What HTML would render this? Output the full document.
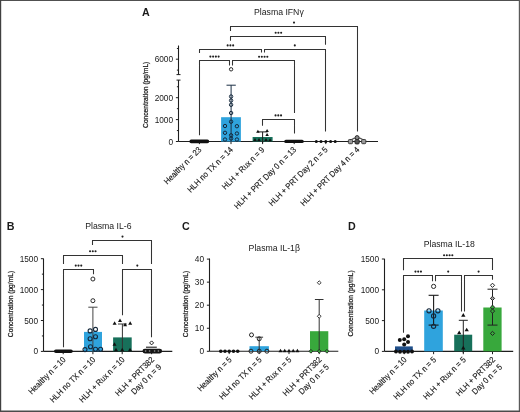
<!DOCTYPE html>
<html><head><meta charset="utf-8"><style>
html,body{margin:0;padding:0;background:#fff;}
svg{display:block;will-change:transform;}
text{font-family:"Liberation Sans", sans-serif;}
</style></head><body>
<svg width="520" height="412" viewBox="0 0 520 412">
<rect width="520" height="412" fill="#fff"/>
<text x="142" y="15.7" font-size="10.7" text-anchor="start" font-weight="bold" fill="#1a1a1a" >A</text>
<text x="254" y="15.1" font-size="8.7" text-anchor="start" font-weight="normal" fill="#1a1a1a" >Plasma IFN&#947;</text>
<line x1="178.5" y1="80.1" x2="178.5" y2="141.5" stroke="#1e1e1e" stroke-width="1.1"/>
<line x1="176.5" y1="80.1" x2="180.5" y2="80.1" stroke="#1e1e1e" stroke-width="1"/>
<line x1="178.5" y1="45.5" x2="178.5" y2="74.6" stroke="#1e1e1e" stroke-width="1.1"/>
<line x1="176.5" y1="74.6" x2="180.5" y2="74.6" stroke="#1e1e1e" stroke-width="1"/>
<line x1="175.9" y1="59.2" x2="178.5" y2="59.2" stroke="#1e1e1e" stroke-width="1"/>
<text x="173.1" y="62.2" font-size="8.3" text-anchor="end" font-weight="normal" fill="#1a1a1a" >6000</text>
<line x1="176.9" y1="48.5" x2="178.5" y2="48.5" stroke="#1e1e1e" stroke-width="1"/>
<line x1="176.9" y1="70.1" x2="178.5" y2="70.1" stroke="#1e1e1e" stroke-width="1"/>
<line x1="175.9" y1="141.5" x2="178.5" y2="141.5" stroke="#1e1e1e" stroke-width="1"/>
<text x="173.1" y="144.5" font-size="8.3" text-anchor="end" font-weight="normal" fill="#1a1a1a" >0</text>
<line x1="175.9" y1="119.6" x2="178.5" y2="119.6" stroke="#1e1e1e" stroke-width="1"/>
<text x="173.1" y="122.6" font-size="8.3" text-anchor="end" font-weight="normal" fill="#1a1a1a" >1000</text>
<line x1="175.9" y1="97.7" x2="178.5" y2="97.7" stroke="#1e1e1e" stroke-width="1"/>
<text x="173.1" y="100.7" font-size="8.3" text-anchor="end" font-weight="normal" fill="#1a1a1a" >2000</text>
<line x1="176.9" y1="130.55" x2="178.5" y2="130.55" stroke="#1e1e1e" stroke-width="1"/>
<line x1="176.9" y1="108.65" x2="178.5" y2="108.65" stroke="#1e1e1e" stroke-width="1"/>
<line x1="176.9" y1="86.75" x2="178.5" y2="86.75" stroke="#1e1e1e" stroke-width="1"/>
<text x="0" y="0" font-size="7.9" text-anchor="middle" fill="#1a1a1a" stroke="#1a1a1a" stroke-width="0.25" transform="translate(147.7 94.8) rotate(-90) scale(0.845 1)">Concentration (pg/mL)</text>
<line x1="178.5" y1="141.5" x2="378" y2="141.5" stroke="#1e1e1e" stroke-width="1.1"/>
<line x1="199.4" y1="141.5" x2="199.4" y2="144.1" stroke="#1e1e1e" stroke-width="1"/>
<line x1="231.0" y1="141.5" x2="231.0" y2="144.1" stroke="#1e1e1e" stroke-width="1"/>
<line x1="262.6" y1="141.5" x2="262.6" y2="144.1" stroke="#1e1e1e" stroke-width="1"/>
<line x1="294.2" y1="141.5" x2="294.2" y2="144.1" stroke="#1e1e1e" stroke-width="1"/>
<line x1="325.8" y1="141.5" x2="325.8" y2="144.1" stroke="#1e1e1e" stroke-width="1"/>
<line x1="357.4" y1="141.5" x2="357.4" y2="144.1" stroke="#1e1e1e" stroke-width="1"/>
<path d="M230.5 31V26.5H357.5V131.5" fill="none" stroke="#333333" stroke-width="1.05"/>
<circle cx="294.00" cy="22.6" r="1.05" fill="#202020"/>
<path d="M230.5 40.8V36.5H325.5V44.7" fill="none" stroke="#333333" stroke-width="1.05"/>
<circle cx="275.65" cy="32.8" r="1.05" fill="#202020"/>
<circle cx="278.40" cy="32.8" r="1.05" fill="#202020"/>
<circle cx="281.15" cy="32.8" r="1.05" fill="#202020"/>
<path d="M199.5 53.1V49.5H261.5V52.4" fill="none" stroke="#333333" stroke-width="1.05"/>
<circle cx="227.65" cy="45.4" r="1.05" fill="#202020"/>
<circle cx="230.40" cy="45.4" r="1.05" fill="#202020"/>
<circle cx="233.15" cy="45.4" r="1.05" fill="#202020"/>
<path d="M264.5 52.4V49.5H325.5V131.5" fill="none" stroke="#333333" stroke-width="1.05"/>
<circle cx="294.80" cy="45.4" r="1.05" fill="#202020"/>
<path d="M199.5 135.3V60.5H229.5V65.4" fill="none" stroke="#333333" stroke-width="1.05"/>
<circle cx="210.38" cy="56.6" r="1.05" fill="#202020"/>
<circle cx="213.12" cy="56.6" r="1.05" fill="#202020"/>
<circle cx="215.88" cy="56.6" r="1.05" fill="#202020"/>
<circle cx="218.62" cy="56.6" r="1.05" fill="#202020"/>
<path d="M232.5 65.4V60.5H294.5V113" fill="none" stroke="#333333" stroke-width="1.05"/>
<circle cx="259.07" cy="56.8" r="1.05" fill="#202020"/>
<circle cx="261.82" cy="56.8" r="1.05" fill="#202020"/>
<circle cx="264.57" cy="56.8" r="1.05" fill="#202020"/>
<circle cx="267.32" cy="56.8" r="1.05" fill="#202020"/>
<path d="M262.5 125.8V119.5H294.5V133.6" fill="none" stroke="#333333" stroke-width="1.05"/>
<circle cx="275.55" cy="115.4" r="1.05" fill="#202020"/>
<circle cx="278.30" cy="115.4" r="1.05" fill="#202020"/>
<circle cx="281.05" cy="115.4" r="1.05" fill="#202020"/>
<rect x="189.4" y="139.6" width="19.8" height="3.6" rx="1.8" fill="#111"/>
<rect x="221.1" y="117.2" width="19.8" height="24.3" fill="#2fa3dd"/>
<line x1="231.1" y1="85.2" x2="231.1" y2="141.5" stroke="#1b2f45" stroke-width="1"/>
<line x1="226.5" y1="85.2" x2="235.8" y2="85.2" stroke="#1b2f45" stroke-width="1"/>
<circle cx="231.1" cy="69.3" r="1.7" fill="none" stroke="#2a2a2a" stroke-width="1.0"/>
<circle cx="231.1" cy="96.5" r="1.7" fill="none" stroke="#14283c" stroke-width="1.0"/>
<circle cx="231.1" cy="100.5" r="1.7" fill="none" stroke="#14283c" stroke-width="1.0"/>
<circle cx="231.1" cy="104.8" r="1.7" fill="none" stroke="#14283c" stroke-width="1.0"/>
<circle cx="231.1" cy="113" r="1.7" fill="none" stroke="#14283c" stroke-width="1.0"/>
<circle cx="231.1" cy="121.7" r="1.7" fill="none" stroke="#14283c" stroke-width="1.0"/>
<circle cx="231.1" cy="135.3" r="1.7" fill="none" stroke="#14283c" stroke-width="1.0"/>
<circle cx="231.1" cy="138.5" r="1.7" fill="none" stroke="#14283c" stroke-width="1.0"/>
<circle cx="225" cy="126" r="1.7" fill="none" stroke="#14283c" stroke-width="1.0"/>
<circle cx="236.9" cy="126.2" r="1.7" fill="none" stroke="#14283c" stroke-width="1.0"/>
<circle cx="225" cy="132.8" r="1.7" fill="none" stroke="#14283c" stroke-width="1.0"/>
<circle cx="236.9" cy="133.5" r="1.7" fill="none" stroke="#14283c" stroke-width="1.0"/>
<circle cx="225" cy="139.5" r="1.7" fill="none" stroke="#14283c" stroke-width="1.0"/>
<circle cx="236.9" cy="139.5" r="1.7" fill="none" stroke="#14283c" stroke-width="1.0"/>
<rect x="252.6" y="137" width="20" height="4.5" fill="#17705a"/>
<line x1="262.6" y1="131.9" x2="262.6" y2="143" stroke="#1e1e1e" stroke-width="1"/>
<line x1="257.70000000000005" y1="131.9" x2="267.5" y2="131.9" stroke="#1e1e1e" stroke-width="1"/>
<path d="M256.15 132.82L257.90 129.78L259.65 132.82Z" fill="#111"/>
<path d="M265.35 132.12L267.10 129.08L268.85 132.12Z" fill="#111"/>
<path d="M265.35 136.12L267.10 133.08L268.85 136.12Z" fill="#111"/>
<path d="M253.25 141.12L255.00 138.08L256.75 141.12Z" fill="#111"/>
<path d="M257.25 141.12L259.00 138.08L260.75 141.12Z" fill="#111"/>
<path d="M264.25 141.12L266.00 138.08L267.75 141.12Z" fill="#111"/>
<path d="M268.25 141.32L270.00 138.28L271.75 141.32Z" fill="#111"/>
<rect x="284.2" y="139.7" width="19.6" height="3.4" rx="1.7" fill="#111"/>
<circle cx="316.3" cy="141.5" r="1.5" fill="#111"/>
<circle cx="321" cy="141.5" r="1.5" fill="#111"/>
<circle cx="325.8" cy="141.5" r="1.5" fill="#111"/>
<circle cx="330.6" cy="141.5" r="1.5" fill="#111"/>
<circle cx="335.2" cy="141.5" r="1.5" fill="#111"/>
<path d="M350.5 140.2Q357.2 135.6 363.9 140.2" fill="none" stroke="#555" stroke-width="1.1"/>
<rect x="348.4" y="139.5" width="4.2" height="4.2" rx="1" fill="#9a9a9a" stroke="#3a3a3a" stroke-width="1"/>
<rect x="361.59999999999997" y="139.5" width="4.2" height="4.2" rx="1" fill="#9a9a9a" stroke="#3a3a3a" stroke-width="1"/>
<rect x="355" y="139.5" width="4.2" height="4.4" rx="1" fill="#555" stroke="#2a2a2a" stroke-width="1"/>
<circle cx="357.1" cy="137.6" r="2.0" fill="#888" stroke="#2a2a2a" stroke-width="1"/>
<text x="0" y="0" font-size="8.4" text-anchor="end" fill="#1a1a1a" stroke="#1a1a1a" stroke-width="0.15" transform="translate(201.90 150.20) rotate(-45) scale(0.9 1)">Healthy n = 23</text>
<text x="0" y="0" font-size="8.4" text-anchor="end" fill="#1a1a1a" stroke="#1a1a1a" stroke-width="0.15" transform="translate(233.50 150.20) rotate(-45) scale(0.9 1)">HLH no TX n = 14</text>
<text x="0" y="0" font-size="8.4" text-anchor="end" fill="#1a1a1a" stroke="#1a1a1a" stroke-width="0.15" transform="translate(265.10 150.20) rotate(-45) scale(0.9 1)">HLH + Rux n = 9</text>
<text x="0" y="0" font-size="8.4" text-anchor="end" fill="#1a1a1a" stroke="#1a1a1a" stroke-width="0.15" transform="translate(296.70 150.20) rotate(-45) scale(0.9 1)">HLH + PRT Day 0 n = 13</text>
<text x="0" y="0" font-size="8.4" text-anchor="end" fill="#1a1a1a" stroke="#1a1a1a" stroke-width="0.15" transform="translate(328.30 150.20) rotate(-45) scale(0.9 1)">HLH + PRT Day 2 n = 5</text>
<text x="0" y="0" font-size="8.4" text-anchor="end" fill="#1a1a1a" stroke="#1a1a1a" stroke-width="0.15" transform="translate(359.90 150.20) rotate(-45) scale(0.9 1)">HLH + PRT Day 4 n = 4</text>
<text x="6.8" y="230.1" font-size="10.7" text-anchor="start" font-weight="bold" fill="#1a1a1a" >B</text>
<text x="85.2" y="229.2" font-size="8.7" text-anchor="start" font-weight="normal" fill="#1a1a1a" >Plasma IL-6</text>
<line x1="43.5" y1="258.5" x2="43.5" y2="351.4" stroke="#1e1e1e" stroke-width="1.1"/>
<line x1="40.9" y1="351.4" x2="43.5" y2="351.4" stroke="#1e1e1e" stroke-width="1"/>
<text x="38.1" y="354.4" font-size="8.3" text-anchor="end" font-weight="normal" fill="#1a1a1a" >0</text>
<line x1="40.9" y1="320.5" x2="43.5" y2="320.5" stroke="#1e1e1e" stroke-width="1"/>
<text x="38.1" y="323.5" font-size="8.3" text-anchor="end" font-weight="normal" fill="#1a1a1a" >500</text>
<line x1="40.9" y1="289.59999999999997" x2="43.5" y2="289.59999999999997" stroke="#1e1e1e" stroke-width="1"/>
<text x="38.1" y="292.59999999999997" font-size="8.3" text-anchor="end" font-weight="normal" fill="#1a1a1a" >1000</text>
<line x1="40.9" y1="258.7" x2="43.5" y2="258.7" stroke="#1e1e1e" stroke-width="1"/>
<text x="38.1" y="261.7" font-size="8.3" text-anchor="end" font-weight="normal" fill="#1a1a1a" >1500</text>
<line x1="41.9" y1="335.95" x2="43.5" y2="335.95" stroke="#1e1e1e" stroke-width="1"/>
<line x1="41.9" y1="305.04999999999995" x2="43.5" y2="305.04999999999995" stroke="#1e1e1e" stroke-width="1"/>
<line x1="41.9" y1="274.15" x2="43.5" y2="274.15" stroke="#1e1e1e" stroke-width="1"/>
<text x="0" y="0" font-size="7.9" text-anchor="middle" fill="#1a1a1a" stroke="#1a1a1a" stroke-width="0.25" transform="translate(13.0 304) rotate(-90) scale(0.845 1)">Concentration (pg/mL)</text>
<line x1="43.5" y1="351.4" x2="172.3" y2="351.4" stroke="#1e1e1e" stroke-width="1.1"/>
<line x1="63.2" y1="351.4" x2="63.2" y2="354.2" stroke="#1e1e1e" stroke-width="1"/>
<line x1="92.9" y1="351.4" x2="92.9" y2="354.2" stroke="#1e1e1e" stroke-width="1"/>
<line x1="122.2" y1="351.4" x2="122.2" y2="354.2" stroke="#1e1e1e" stroke-width="1"/>
<line x1="151.6" y1="351.4" x2="151.6" y2="354.2" stroke="#1e1e1e" stroke-width="1"/>
<path d="M92.5 245V240.5H151.5V264.1" fill="none" stroke="#333333" stroke-width="1.05"/>
<circle cx="122.50" cy="236.6" r="1.05" fill="#202020"/>
<path d="M63.5 264V255.5H122.5V264.1" fill="none" stroke="#333333" stroke-width="1.05"/>
<circle cx="90.05" cy="251.2" r="1.05" fill="#202020"/>
<circle cx="92.80" cy="251.2" r="1.05" fill="#202020"/>
<circle cx="95.55" cy="251.2" r="1.05" fill="#202020"/>
<path d="M63.5 347.2V269.5H93.5V274.3" fill="none" stroke="#333333" stroke-width="1.05"/>
<circle cx="75.75" cy="265.6" r="1.05" fill="#202020"/>
<circle cx="78.50" cy="265.6" r="1.05" fill="#202020"/>
<circle cx="81.25" cy="265.6" r="1.05" fill="#202020"/>
<path d="M122.5 315.3V269.5H151.5V337.3" fill="none" stroke="#333333" stroke-width="1.05"/>
<circle cx="137.30" cy="265.6" r="1.05" fill="#202020"/>
<rect x="54" y="349.5" width="18.8" height="3.6" rx="1.8" fill="#111"/>
<rect x="84" y="331.9" width="18" height="19.4" fill="#2fa3dd"/>
<line x1="92.9" y1="307.2" x2="92.9" y2="351.3" stroke="#444" stroke-width="1"/>
<line x1="88.30000000000001" y1="307.2" x2="97.5" y2="307.2" stroke="#444" stroke-width="1"/>
<circle cx="92.9" cy="279" r="2.0" fill="none" stroke="#2a2a2a" stroke-width="1.0"/>
<circle cx="92.9" cy="300.7" r="2.0" fill="none" stroke="#2a2a2a" stroke-width="1.0"/>
<circle cx="90.1" cy="330.9" r="2.0" fill="none" stroke="#14283c" stroke-width="1.1"/>
<circle cx="95.5" cy="329.4" r="2.0" fill="none" stroke="#14283c" stroke-width="1.1"/>
<circle cx="90.1" cy="338.7" r="2.0" fill="none" stroke="#14283c" stroke-width="1.1"/>
<circle cx="95.5" cy="336.8" r="2.0" fill="none" stroke="#14283c" stroke-width="1.1"/>
<circle cx="90.5" cy="346.8" r="2.0" fill="none" stroke="#14283c" stroke-width="1.1"/>
<circle cx="85" cy="349.6" r="2.0" fill="none" stroke="#14283c" stroke-width="1.1"/>
<circle cx="95.5" cy="349.2" r="2.0" fill="none" stroke="#14283c" stroke-width="1.1"/>
<circle cx="100.6" cy="349.2" r="2.0" fill="none" stroke="#14283c" stroke-width="1.1"/>
<rect x="113.1" y="337.4" width="18.6" height="13.9" fill="#17705a"/>
<line x1="122.4" y1="324" x2="122.4" y2="351.3" stroke="#333" stroke-width="1"/>
<line x1="118.0" y1="324" x2="126.80000000000001" y2="324" stroke="#333" stroke-width="1"/>
<path d="M112.60 324.64L114.60 321.16L116.60 324.64Z" fill="#111"/>
<path d="M118.00 322.04L120.00 318.56L122.00 322.04Z" fill="#111"/>
<path d="M123.10 326.34L125.10 322.86L127.10 326.34Z" fill="#111"/>
<path d="M128.20 324.64L130.20 321.16L132.20 324.64Z" fill="#111"/>
<path d="M112.50 345.74L114.50 342.26L116.50 345.74Z" fill="#111"/>
<path d="M114.00 351.24L116.00 347.76L118.00 351.24Z" fill="#111"/>
<path d="M120.20 351.24L122.20 347.76L124.20 351.24Z" fill="#111"/>
<path d="M128.00 351.24L130.00 347.76L132.00 351.24Z" fill="#111"/>
<path d="M151.6 340.9L153.6 342.9L151.6 344.9L149.6 342.9Z" fill="#fff" stroke="#1a1a1a" stroke-width="1.0"/>
<line x1="146" y1="347.2" x2="156.8" y2="347.2" stroke="#1a1a1a" stroke-width="1.1"/>
<rect x="142.5" y="348.7" width="19.6" height="4.8" rx="2.4" fill="#141414"/>
<path d="M145.6 350.1L146.6 351.1L145.6 352.1L144.6 351.1Z" fill="#8a8a8a" stroke="none" stroke-width="0"/>
<path d="M149.6 350.1L150.6 351.1L149.6 352.1L148.6 351.1Z" fill="#8a8a8a" stroke="none" stroke-width="0"/>
<path d="M154.6 350.1L155.6 351.1L154.6 352.1L153.6 351.1Z" fill="#8a8a8a" stroke="none" stroke-width="0"/>
<path d="M158.4 350.1L159.4 351.1L158.4 352.1L157.4 351.1Z" fill="#8a8a8a" stroke="none" stroke-width="0"/>
<text x="0" y="0" font-size="8.4" text-anchor="end" fill="#1a1a1a" stroke="#1a1a1a" stroke-width="0.15" transform="translate(66.30 360.20) rotate(-45) scale(0.9 1)">Healthy n = 10</text>
<text x="0" y="0" font-size="8.4" text-anchor="end" fill="#1a1a1a" stroke="#1a1a1a" stroke-width="0.15" transform="translate(96.00 360.20) rotate(-45) scale(0.9 1)">HLH no TX n = 10</text>
<text x="0" y="0" font-size="8.4" text-anchor="end" fill="#1a1a1a" stroke="#1a1a1a" stroke-width="0.15" transform="translate(125.30 360.20) rotate(-45) scale(0.9 1)">HLH + Rux n = 10</text>
<text x="0" y="0" font-size="8.4" text-anchor="end" fill="#1a1a1a" stroke="#1a1a1a" stroke-width="0.15" transform="translate(154.70 360.20) rotate(-45) scale(0.9 1)">HLH + PRT382</text>
<text x="0" y="0" font-size="8.4" text-anchor="end" fill="#1a1a1a" stroke="#1a1a1a" stroke-width="0.15" transform="translate(161.91 367.41) rotate(-45) scale(0.9 1)">Day 0 n = 9</text>
<text x="182" y="230.1" font-size="10.7" text-anchor="start" font-weight="bold" fill="#1a1a1a" >C</text>
<text x="248.6" y="250.9" font-size="8.7" text-anchor="start" font-weight="normal" fill="#1a1a1a" >Plasma IL-1&#946;</text>
<line x1="209.5" y1="258.5" x2="209.5" y2="351.3" stroke="#1e1e1e" stroke-width="1.1"/>
<line x1="206.9" y1="351.3" x2="209.5" y2="351.3" stroke="#1e1e1e" stroke-width="1"/>
<text x="204.1" y="354.3" font-size="8.3" text-anchor="end" font-weight="normal" fill="#1a1a1a" >0</text>
<line x1="206.9" y1="328.25" x2="209.5" y2="328.25" stroke="#1e1e1e" stroke-width="1"/>
<text x="204.1" y="331.25" font-size="8.3" text-anchor="end" font-weight="normal" fill="#1a1a1a" >10</text>
<line x1="206.9" y1="305.2" x2="209.5" y2="305.2" stroke="#1e1e1e" stroke-width="1"/>
<text x="204.1" y="308.2" font-size="8.3" text-anchor="end" font-weight="normal" fill="#1a1a1a" >20</text>
<line x1="206.9" y1="282.15" x2="209.5" y2="282.15" stroke="#1e1e1e" stroke-width="1"/>
<text x="204.1" y="285.15" font-size="8.3" text-anchor="end" font-weight="normal" fill="#1a1a1a" >30</text>
<line x1="206.9" y1="259.1" x2="209.5" y2="259.1" stroke="#1e1e1e" stroke-width="1"/>
<text x="204.1" y="262.1" font-size="8.3" text-anchor="end" font-weight="normal" fill="#1a1a1a" >40</text>
<text x="0" y="0" font-size="7.9" text-anchor="middle" fill="#1a1a1a" stroke="#1a1a1a" stroke-width="0.25" transform="translate(188.3 304) rotate(-90) scale(0.845 1)">Concentration (pg/mL)</text>
<line x1="209.5" y1="351.3" x2="338.3" y2="351.3" stroke="#1e1e1e" stroke-width="1.1"/>
<line x1="229.2" y1="351.3" x2="229.2" y2="354.1" stroke="#1e1e1e" stroke-width="1"/>
<line x1="259.2" y1="351.3" x2="259.2" y2="354.1" stroke="#1e1e1e" stroke-width="1"/>
<line x1="289.0" y1="351.3" x2="289.0" y2="354.1" stroke="#1e1e1e" stroke-width="1"/>
<line x1="319.2" y1="351.3" x2="319.2" y2="354.1" stroke="#1e1e1e" stroke-width="1"/>
<circle cx="220.8" cy="351.2" r="1.8" fill="#111"/>
<circle cx="225" cy="351.2" r="1.8" fill="#111"/>
<circle cx="229.2" cy="351.2" r="1.8" fill="#111"/>
<circle cx="233.5" cy="351.2" r="1.8" fill="#111"/>
<circle cx="237.7" cy="351.2" r="1.8" fill="#111"/>
<rect x="249.5" y="346.2" width="19.4" height="4.9" fill="#2fa3dd"/>
<line x1="259.2" y1="337.2" x2="259.2" y2="351.1" stroke="#333" stroke-width="1"/>
<line x1="255.29999999999998" y1="337.2" x2="263.09999999999997" y2="337.2" stroke="#333" stroke-width="1"/>
<circle cx="251.5" cy="334.9" r="2.0" fill="none" stroke="#222" stroke-width="1.0"/>
<circle cx="259.2" cy="338.8" r="2.0" fill="none" stroke="#222" stroke-width="1.0"/>
<circle cx="251" cy="351.2" r="2.0" fill="none" stroke="#222" stroke-width="1.0"/>
<circle cx="259.2" cy="351.2" r="2.0" fill="none" stroke="#222" stroke-width="1.0"/>
<circle cx="266.9" cy="351.2" r="2.0" fill="none" stroke="#222" stroke-width="1.0"/>
<path d="M278.50 352.34L280.50 348.86L282.50 352.34Z" fill="#111"/>
<path d="M282.70 352.34L284.70 348.86L286.70 352.34Z" fill="#111"/>
<path d="M287.00 352.34L289.00 348.86L291.00 352.34Z" fill="#111"/>
<path d="M291.20 352.34L293.20 348.86L295.20 352.34Z" fill="#111"/>
<path d="M295.40 352.34L297.40 348.86L299.40 352.34Z" fill="#111"/>
<rect x="310" y="331.2" width="18.3" height="19.9" fill="#38a83c"/>
<line x1="319.2" y1="299.5" x2="319.2" y2="351.1" stroke="#333" stroke-width="1"/>
<line x1="314.9" y1="299.5" x2="323.5" y2="299.5" stroke="#333" stroke-width="1"/>
<path d="M319.2 280.8L321.09999999999997 282.7L319.2 284.59999999999997L317.3 282.7Z" fill="#fff" stroke="#222" stroke-width="0.9"/>
<path d="M319.2 314.40000000000003L321.09999999999997 316.3L319.2 318.2L317.3 316.3Z" fill="#fff" stroke="#222" stroke-width="0.9"/>
<path d="M310.9 349.40000000000003L312.79999999999995 351.3L310.9 353.2L309.0 351.3Z" fill="#38a83c" stroke="#222" stroke-width="0.9"/>
<path d="M319.2 349.40000000000003L321.09999999999997 351.3L319.2 353.2L317.3 351.3Z" fill="#38a83c" stroke="#222" stroke-width="0.9"/>
<path d="M326.9 349.40000000000003L328.79999999999995 351.3L326.9 353.2L325.0 351.3Z" fill="#38a83c" stroke="#222" stroke-width="0.9"/>
<text x="0" y="0" font-size="8.4" text-anchor="end" fill="#1a1a1a" stroke="#1a1a1a" stroke-width="0.15" transform="translate(232.30 360.20) rotate(-45) scale(0.9 1)">Healthy n = 5</text>
<text x="0" y="0" font-size="8.4" text-anchor="end" fill="#1a1a1a" stroke="#1a1a1a" stroke-width="0.15" transform="translate(262.30 360.20) rotate(-45) scale(0.9 1)">HLH no TX n = 5</text>
<text x="0" y="0" font-size="8.4" text-anchor="end" fill="#1a1a1a" stroke="#1a1a1a" stroke-width="0.15" transform="translate(292.10 360.20) rotate(-45) scale(0.9 1)">HLH + Rux n = 5</text>
<text x="0" y="0" font-size="8.4" text-anchor="end" fill="#1a1a1a" stroke="#1a1a1a" stroke-width="0.15" transform="translate(322.30 360.20) rotate(-45) scale(0.9 1)">HLH + PRT382</text>
<text x="0" y="0" font-size="8.4" text-anchor="end" fill="#1a1a1a" stroke="#1a1a1a" stroke-width="0.15" transform="translate(329.51 367.41) rotate(-45) scale(0.9 1)">Day 0 n = 5</text>
<text x="347.9" y="230.1" font-size="10.7" text-anchor="start" font-weight="bold" fill="#1a1a1a" >D</text>
<text x="423.7" y="246.9" font-size="8.7" text-anchor="start" font-weight="normal" fill="#1a1a1a" >Plasma IL-18</text>
<line x1="384.5" y1="258.8" x2="384.5" y2="351.4" stroke="#1e1e1e" stroke-width="1.1"/>
<line x1="381.9" y1="351.4" x2="384.5" y2="351.4" stroke="#1e1e1e" stroke-width="1"/>
<text x="379.1" y="354.4" font-size="8.3" text-anchor="end" font-weight="normal" fill="#1a1a1a" >0</text>
<line x1="381.9" y1="320.59999999999997" x2="384.5" y2="320.59999999999997" stroke="#1e1e1e" stroke-width="1"/>
<text x="379.1" y="323.59999999999997" font-size="8.3" text-anchor="end" font-weight="normal" fill="#1a1a1a" >500</text>
<line x1="381.9" y1="289.79999999999995" x2="384.5" y2="289.79999999999995" stroke="#1e1e1e" stroke-width="1"/>
<text x="379.1" y="292.79999999999995" font-size="8.3" text-anchor="end" font-weight="normal" fill="#1a1a1a" >1000</text>
<line x1="381.9" y1="259.0" x2="384.5" y2="259.0" stroke="#1e1e1e" stroke-width="1"/>
<text x="379.1" y="262.0" font-size="8.3" text-anchor="end" font-weight="normal" fill="#1a1a1a" >1500</text>
<text x="0" y="0" font-size="7.9" text-anchor="middle" fill="#1a1a1a" stroke="#1a1a1a" stroke-width="0.25" transform="translate(353.1 303.4) rotate(-90) scale(0.845 1)">Concentration (pg/mL)</text>
<line x1="384.5" y1="351.4" x2="513.2" y2="351.4" stroke="#1e1e1e" stroke-width="1.1"/>
<line x1="404.2" y1="351.4" x2="404.2" y2="354.2" stroke="#1e1e1e" stroke-width="1"/>
<line x1="433.6" y1="351.4" x2="433.6" y2="354.2" stroke="#1e1e1e" stroke-width="1"/>
<line x1="463.3" y1="351.4" x2="463.3" y2="354.2" stroke="#1e1e1e" stroke-width="1"/>
<line x1="492.5" y1="351.4" x2="492.5" y2="354.2" stroke="#1e1e1e" stroke-width="1"/>
<path d="M403.5 270.3V258.5H492.5V270" fill="none" stroke="#333333" stroke-width="1.05"/>
<circle cx="444.07" cy="255.2" r="1.05" fill="#202020"/>
<circle cx="446.82" cy="255.2" r="1.05" fill="#202020"/>
<circle cx="449.57" cy="255.2" r="1.05" fill="#202020"/>
<circle cx="452.32" cy="255.2" r="1.05" fill="#202020"/>
<path d="M403.5 332.7V275.5H432.5V281.2" fill="none" stroke="#333333" stroke-width="1.05"/>
<circle cx="415.45" cy="271.6" r="1.05" fill="#202020"/>
<circle cx="418.20" cy="271.6" r="1.05" fill="#202020"/>
<circle cx="420.95" cy="271.6" r="1.05" fill="#202020"/>
<path d="M435.5 281.2V275.5H461.5V311.5" fill="none" stroke="#333333" stroke-width="1.05"/>
<circle cx="448.20" cy="271.6" r="1.05" fill="#202020"/>
<path d="M464.5 311.5V275.5H492.5V279.8" fill="none" stroke="#333333" stroke-width="1.05"/>
<circle cx="478.60" cy="271.6" r="1.05" fill="#202020"/>
<rect x="395" y="346.4" width="17.8" height="4.9" fill="#1f4f8a"/>
<circle cx="399.8" cy="340" r="2.0" fill="#111"/>
<circle cx="404.2" cy="339.2" r="2.0" fill="#111"/>
<circle cx="408" cy="336.3" r="2.0" fill="#111"/>
<circle cx="408" cy="342" r="2.0" fill="#111"/>
<circle cx="404.2" cy="344.4" r="2.0" fill="#111"/>
<circle cx="396" cy="351.6" r="2.0" fill="#111"/>
<circle cx="400" cy="351.8" r="2.0" fill="#111"/>
<circle cx="404.2" cy="351.8" r="2.0" fill="#111"/>
<circle cx="408" cy="351.8" r="2.0" fill="#111"/>
<circle cx="412" cy="351.6" r="2.0" fill="#111"/>
<rect x="424.2" y="310.5" width="18.6" height="40.8" fill="#2fa3dd"/>
<line x1="433.6" y1="295.3" x2="433.6" y2="325.1" stroke="#1a1a1a" stroke-width="1.1"/>
<line x1="428.6" y1="295.3" x2="438.6" y2="295.3" stroke="#1a1a1a" stroke-width="1.1"/>
<line x1="428.6" y1="325.1" x2="438.6" y2="325.1" stroke="#1a1a1a" stroke-width="1.1"/>
<circle cx="433.6" cy="286.4" r="2.1" fill="none" stroke="#2a2a2a" stroke-width="1.0"/>
<circle cx="429" cy="310.8" r="2.1" fill="none" stroke="#14283c" stroke-width="1.1"/>
<circle cx="437.9" cy="310.8" r="2.1" fill="none" stroke="#14283c" stroke-width="1.1"/>
<circle cx="433.6" cy="315.9" r="2.1" fill="none" stroke="#14283c" stroke-width="1.1"/>
<circle cx="433.6" cy="326.3" r="2.1" fill="none" stroke="#14283c" stroke-width="1.1"/>
<rect x="454.2" y="334.7" width="18" height="16.6" fill="#17705a"/>
<line x1="463.3" y1="320.3" x2="463.3" y2="353" stroke="#222" stroke-width="1"/>
<line x1="458.8" y1="320.3" x2="467.8" y2="320.3" stroke="#222" stroke-width="1"/>
<path d="M461.15 316.67L463.30 312.93L465.45 316.67Z" fill="#111"/>
<path d="M457.05 334.17L459.20 330.43L461.35 334.17Z" fill="#111"/>
<path d="M464.55 331.37L466.70 327.63L468.85 331.37Z" fill="#111"/>
<path d="M461.15 349.47L463.30 345.73L465.45 349.47Z" fill="#111"/>
<rect x="483.3" y="307.5" width="18.3" height="43.8" fill="#38a83c"/>
<line x1="492.5" y1="289.2" x2="492.5" y2="325.1" stroke="#222" stroke-width="1"/>
<line x1="487.5" y1="289.2" x2="497.5" y2="289.2" stroke="#222" stroke-width="1"/>
<line x1="487.5" y1="325.1" x2="497.5" y2="325.1" stroke="#222" stroke-width="1"/>
<path d="M492.5 283.2L494.6 285.3L492.5 287.40000000000003L490.4 285.3Z" fill="#fff" stroke="#222" stroke-width="1.0"/>
<path d="M492.5 296.29999999999995L494.6 298.4L492.5 300.5L490.4 298.4Z" fill="#999" stroke="#222" stroke-width="1.0"/>
<path d="M492.5 305.09999999999997L494.6 307.2L492.5 309.3L490.4 307.2Z" fill="#38a83c" stroke="#222" stroke-width="1.0"/>
<path d="M492.5 309.0L494.6 311.1L492.5 313.20000000000005L490.4 311.1Z" fill="#38a83c" stroke="#222" stroke-width="1.0"/>
<path d="M492.5 331.29999999999995L494.6 333.4L492.5 335.5L490.4 333.4Z" fill="#38a83c" stroke="#222" stroke-width="1.0"/>
<text x="0" y="0" font-size="8.4" text-anchor="end" fill="#1a1a1a" stroke="#1a1a1a" stroke-width="0.15" transform="translate(407.30 360.20) rotate(-45) scale(0.9 1)">Healthy n = 10</text>
<text x="0" y="0" font-size="8.4" text-anchor="end" fill="#1a1a1a" stroke="#1a1a1a" stroke-width="0.15" transform="translate(436.70 360.20) rotate(-45) scale(0.9 1)">HLH no TX n = 5</text>
<text x="0" y="0" font-size="8.4" text-anchor="end" fill="#1a1a1a" stroke="#1a1a1a" stroke-width="0.15" transform="translate(466.40 360.20) rotate(-45) scale(0.9 1)">HLH + Rux n = 5</text>
<text x="0" y="0" font-size="8.4" text-anchor="end" fill="#1a1a1a" stroke="#1a1a1a" stroke-width="0.15" transform="translate(495.60 360.20) rotate(-45) scale(0.9 1)">HLH + PRT382</text>
<text x="0" y="0" font-size="8.4" text-anchor="end" fill="#1a1a1a" stroke="#1a1a1a" stroke-width="0.15" transform="translate(502.81 367.41) rotate(-45) scale(0.9 1)">Day 0 n = 5</text>
<rect x="0" y="0" width="520" height="1" fill="#505050"/>
<rect x="0" y="0" width="1.2" height="412" fill="#404040"/>
<rect x="518.8" y="0" width="1.2" height="412" fill="#5a5a5a"/>
<rect x="0" y="410.5" width="520" height="1.5" fill="#4a4a4a"/>
</svg></body></html>
